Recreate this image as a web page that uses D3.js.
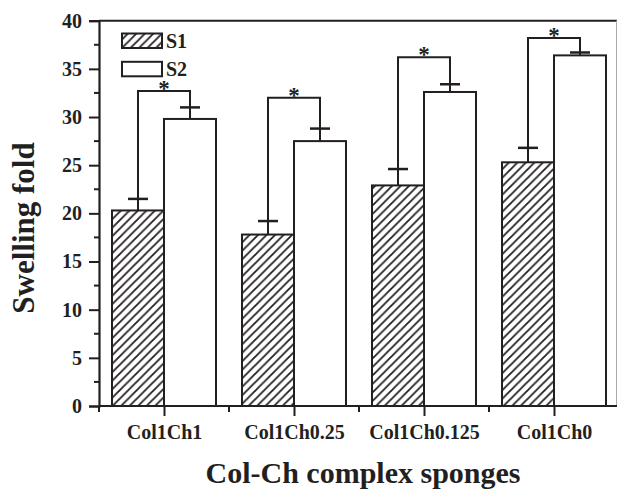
<!DOCTYPE html>
<html>
<head>
<meta charset="utf-8">
<script src="https://cdn.jsdelivr.net/npm/d3@7/dist/d3.min.js"></script>
<style>
  body { margin: 0; background: #fff; }
  svg text { font-family: "Liberation Serif", "Times New Roman", serif; font-weight: bold; fill: #231f20; }
</style>
</head>
<body>
<div id="chart"></div>
<script>
// data
var categories = ["Col1Ch1", "Col1Ch0.25", "Col1Ch0.125", "Col1Ch0"];
var s1 = [20.3, 17.8, 22.9, 25.3];
var s1Err = [1.2, 1.4, 1.7, 1.5];
var s2 = [29.8, 27.5, 32.6, 36.4];
var s2Err = [1.2, 1.3, 0.8, 0.3];
var sigLevel = [32.7, 32.0, 36.2, 38.2];
var yTicks = [0, 5, 10, 15, 20, 25, 30, 35, 40];

var W = 617, H = 489;
var ink = "#231f20";

var svg = d3.select("#chart").append("svg")
  .attr("width", W).attr("height", H);

// hatch pattern for S1
var defs = svg.append("defs");
var pat = defs.append("pattern")
  .attr("id", "hatch")
  .attr("patternUnits", "userSpaceOnUse")
  .attr("width", 8.5).attr("height", 8.5);
pat.append("rect").attr("width", 8.5).attr("height", 8.5).attr("fill", "#fff");
pat.append("path")
  .attr("d", "M-2,2 L2,-2 M0,8.5 L8.5,0 M6.5,10.5 L10.5,6.5")
  .attr("stroke", ink).attr("stroke-width", 1.8);

// scales: category i sits at i+1, axis spans half a slot either side
var x = d3.scaleLinear().domain([0.5, 4.5]).range([99, 619]);
var y = d3.scaleLinear().domain([0, 40]).range([406, 20.7]);
var bw = 0.4;

// frame: top line and the clipped right edge
svg.append("line")
  .attr("x1", x(0.5)).attr("x2", W)
  .attr("y1", y(40)).attr("y2", y(40))
  .attr("stroke", ink).attr("stroke-width", 2);
svg.append("line")
  .attr("x1", 616.5).attr("x2", 616.5)
  .attr("y1", y(40)).attr("y2", y(0))
  .attr("stroke", "#aaa").attr("stroke-width", 1);

// y axis
var yAxis = svg.append("g")
  .attr("transform", "translate(" + x(0.5) + ",0)")
  .call(d3.axisLeft(y).tickValues(yTicks).tickSize(10).tickPadding(7));
yAxis.select(".domain").attr("stroke", ink).attr("stroke-width", 2.2);
yAxis.selectAll(".tick line").attr("stroke", ink).attr("stroke-width", 2);
yAxis.selectAll("text").style("font-size", "20px").attr("fill", ink);
// y minor ticks
yAxis.selectAll(".minor")
  .data(d3.range(2.5, 40, 5))
  .enter().append("line")
  .attr("class", "minor")
  .attr("x1", -5).attr("x2", 0)
  .attr("y1", function (d) { return y(d); })
  .attr("y2", function (d) { return y(d); })
  .attr("stroke", ink).attr("stroke-width", 2);

// bars
var groups = svg.append("g").selectAll("g.grp")
  .data(categories)
  .enter().append("g").attr("class", "grp");

groups.append("rect")
  .attr("x", function (d, i) { return x(i + 1 - bw); })
  .attr("width", function (d, i) { return x(i + 1) - x(i + 1 - bw); })
  .attr("y", function (d, i) { return y(s1[i]); })
  .attr("height", function (d, i) { return y(0) - y(s1[i]); })
  .attr("fill", "url(#hatch)")
  .attr("stroke", ink).attr("stroke-width", 2);

groups.append("rect")
  .attr("x", function (d, i) { return x(i + 1); })
  .attr("width", function (d, i) { return x(i + 1 + bw) - x(i + 1); })
  .attr("y", function (d, i) { return y(s2[i]); })
  .attr("height", function (d, i) { return y(0) - y(s2[i]); })
  .attr("fill", "#fff")
  .attr("stroke", ink).attr("stroke-width", 2);

// error bars (upper half only) and significance brackets
groups.each(function (d, i) {
  var g = d3.select(this);
  var c1 = x(i + 1 - bw / 2), c2 = x(i + 1 + bw / 2);
  var t1 = y(s1[i] + s1Err[i]), t2 = y(s2[i] + s2Err[i]);
  var top = y(sigLevel[i]);

  [[c1, y(s1[i]), t1], [c2, y(s2[i]), t2]].forEach(function (e) {
    g.append("line").attr("x1", e[0]).attr("x2", e[0])
      .attr("y1", e[1]).attr("y2", e[2])
      .attr("stroke", ink).attr("stroke-width", 2);
    g.append("line").attr("x1", e[0] - 10).attr("x2", e[0] + 10)
      .attr("y1", e[2]).attr("y2", e[2])
      .attr("stroke", ink).attr("stroke-width", 2.5);
  });

  g.append("path")
    .attr("d", "M" + c1 + "," + t1 + "V" + top + "H" + c2 + "V" + t2)
    .attr("fill", "none")
    .attr("stroke", ink).attr("stroke-width", 2);

  g.append("text")
    .attr("x", (c1 + c2) / 2).attr("y", top + 5)
    .attr("text-anchor", "middle")
    .style("font-size", "23px")
    .text("*");
});

// x axis
var xAxis = svg.append("g")
  .attr("transform", "translate(0," + y(0) + ")")
  .call(d3.axisBottom(x)
    .tickValues([1, 2, 3, 4])
    .tickFormat(function (d) { return categories[d - 1]; })
    .tickSize(10).tickPadding(9));
xAxis.select(".domain").attr("stroke", ink).attr("stroke-width", 2.2)
  .attr("d", "M" + x(0.5) + ",0H" + W);
xAxis.selectAll(".tick line").attr("stroke", ink).attr("stroke-width", 2);
xAxis.selectAll("text").style("font-size", "20px").attr("fill", ink);
xAxis.selectAll(".minor")
  .data([1.5, 2.5, 3.5, 0.5])
  .enter().append("line")
  .attr("class", "minor")
  .attr("x1", function (d) { return x(d); })
  .attr("x2", function (d) { return x(d); })
  .attr("y1", 0).attr("y2", 6)
  .attr("stroke", ink).attr("stroke-width", 2);

// legend
var legend = svg.append("g");
[["S1", "url(#hatch)"], ["S2", "#fff"]].forEach(function (l, i) {
  legend.append("rect")
    .attr("x", 122).attr("y", 33.5 + i * 28.3)
    .attr("width", 40).attr("height", 14.5)
    .attr("fill", l[1]).attr("stroke", ink).attr("stroke-width", 2);
  legend.append("text")
    .attr("x", 166).attr("y", 48 + i * 28)
    .style("font-size", "20px")
    .text(l[0]);
});

// axis titles
svg.append("text")
  .attr("x", 363).attr("y", 483)
  .attr("text-anchor", "middle")
  .style("font-size", "30px")
  .text("Col-Ch complex sponges");

svg.append("text")
  .attr("transform", "translate(34,228) rotate(-90)")
  .attr("text-anchor", "middle")
  .style("font-size", "31px")
  .text("Swelling fold");
</script>
</body>
</html>
